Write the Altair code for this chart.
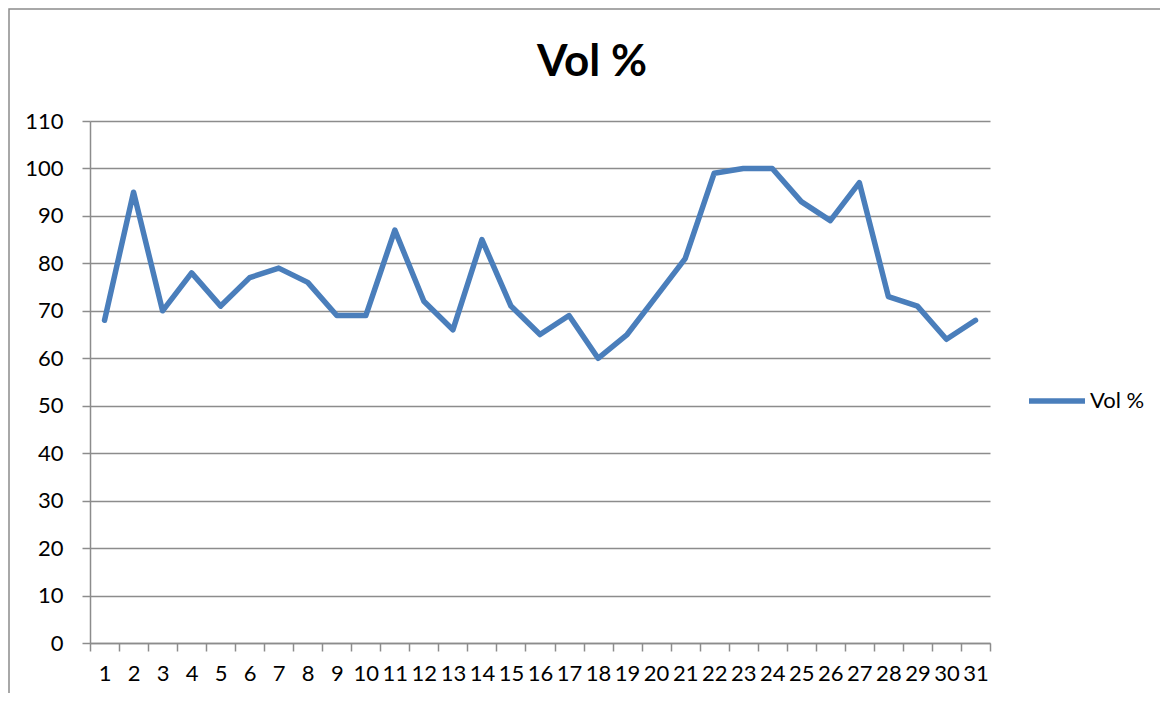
import altair as alt
import pandas as pd

days = list(range(1, 32))
vol = [68, 95, 70, 78, 71, 77, 79, 76, 69, 69, 87, 72, 66, 85, 71, 65, 69, 60, 65, 73,
       81, 99, 100, 100, 93, 89, 97, 73, 71, 64, 68]
series_name = "Vol %"
title_text = "Vol %"

df = pd.DataFrame({"day": days, "vol": vol, "series": [series_name] * len(days)})

FONT = "Lato"
GRID = "#8c8c8c"
BLUE = "#4a7ebb"

base = alt.Chart(pd.DataFrame({"a": [0]}))

border = base.mark_rect(
    fill="white", fillOpacity=0, stroke="#8c8c8c", strokeWidth=1.5
).encode(
    x=alt.value(-81), y=alt.value(-112), x2=alt.value(1200), y2=alt.value(700)
)

title = base.mark_text(
    text=title_text, font=FONT, fontSize=44, fontWeight="bold", color="black",
    align="center", baseline="alphabetic"
).encode(x=alt.value(502), y=alt.value(-45))

line = alt.Chart(df).mark_line(strokeWidth=5.5, strokeJoin="round", strokeCap="round").encode(
    x=alt.X("day:O", bandPosition=0.5,
            scale=alt.Scale(type="band", paddingInner=0, paddingOuter=0),
            axis=alt.Axis(title=None, labelAngle=0, tickBand="extent", grid=False,
                          domainColor=GRID, domainWidth=1.5, tickColor=GRID, tickWidth=1.5,
                          tickSize=8, labelPadding=12, labelFont=FONT, labelFontSize=22,
                          labelColor="black")),
    y=alt.Y("vol:Q", scale=alt.Scale(domain=[0, 110], nice=False),
            axis=alt.Axis(title=None, values=list(range(0, 111, 10)), grid=True,
                          gridColor=GRID, gridWidth=1.5, domainColor=GRID, domainWidth=1.5,
                          tickColor=GRID, tickWidth=1.5, tickSize=8, labelPadding=19,
                          labelFont=FONT, labelFontSize=22, labelColor="black")),
    color=alt.Color("series:N", scale=alt.Scale(domain=[series_name], range=[BLUE]),
                    legend=alt.Legend(title=None, orient="none", legendX=936, legendY=249,
                                      symbolType="stroke", symbolSize=3136,
                                      symbolStrokeWidth=5.5, labelFont=FONT,
                                      labelFontSize=22, labelColor="black",
                                      labelOffset=2, padding=0)),
)

chart = alt.layer(border, line, title).properties(
    width=900, height=522,
    autosize=alt.AutoSizeParams(type="none"),
    padding={"left": 82, "top": 113, "right": 170, "bottom": 50},
).configure_view(stroke=None)

chart.save("out.html", embed_options={"renderer": "svg", "actions": False})
